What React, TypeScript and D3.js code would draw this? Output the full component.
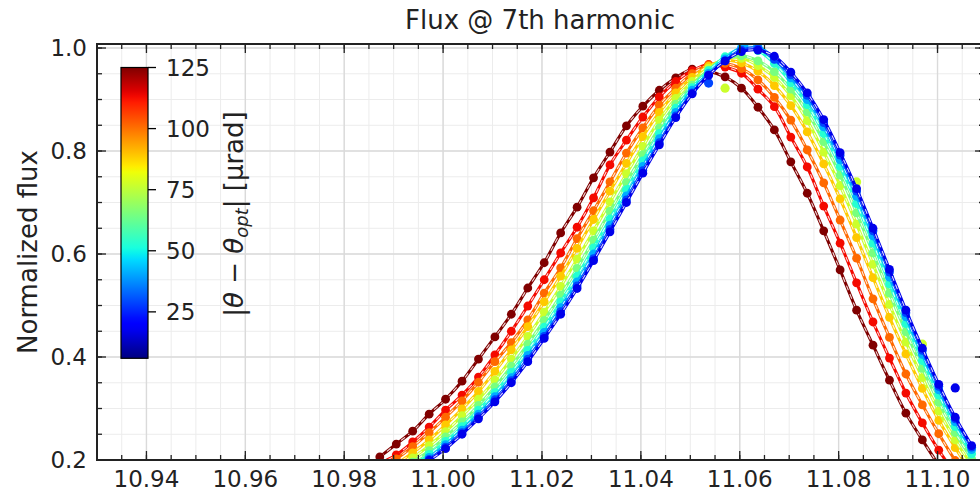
import React from "react";
import * as d3 from "d3";

// ---------- data ----------
const xValues = [
  10.9872, 10.99053, 10.99385, 10.99718, 11.0005, 11.00383, 11.00715, 11.01048, 11.0138, 11.01713,
  11.02045, 11.02378, 11.0271, 11.03043, 11.03375, 11.03708, 11.0404, 11.04373, 11.04705, 11.05038,
  11.0537, 11.05703, 11.06035, 11.06368, 11.067, 11.07033, 11.07365, 11.07698, 11.0803, 11.08363,
  11.08695, 11.09028, 11.0936, 11.09693, 11.10025, 11.10358, 11.1069,
];

const thetaValues = [125, 113, 101, 89, 77, 65, 53, 41, 29, 17];

const flux17 = [0.141, 0.158, 0.178, 0.199, 0.222, 0.25, 0.28, 0.313, 0.35, 0.391, 0.436, 0.483, 0.533, 0.587, 0.643, 0.7, 0.757, 0.812, 0.865, 0.911, 0.947, 0.975, 0.993, 0.996, 0.984, 0.953, 0.913, 0.861, 0.797, 0.727, 0.65, 0.57, 0.491, 0.417, 0.347, 0.283, 0.228];
const flux29 = [0.143, 0.161, 0.18, 0.201, 0.225, 0.253, 0.284, 0.317, 0.354, 0.396, 0.44, 0.488, 0.538, 0.591, 0.648, 0.705, 0.762, 0.816, 0.868, 0.913, 0.948, 0.975, 0.996, 0.999, 0.978, 0.948, 0.908, 0.855, 0.792, 0.722, 0.645, 0.565, 0.486, 0.413, 0.343, 0.28, 0.225];
const flux41 = [0.147, 0.164, 0.184, 0.205, 0.23, 0.258, 0.289, 0.323, 0.36, 0.403, 0.448, 0.496, 0.546, 0.6, 0.656, 0.713, 0.77, 0.824, 0.875, 0.918, 0.951, 0.979, 1.001, 1.003, 0.979, 0.942, 0.9, 0.847, 0.783, 0.712, 0.635, 0.555, 0.478, 0.405, 0.336, 0.274, 0.22];
const flux53 = [0.151, 0.169, 0.189, 0.211, 0.236, 0.265, 0.297, 0.331, 0.37, 0.413, 0.458, 0.507, 0.557, 0.612, 0.668, 0.725, 0.781, 0.834, 0.883, 0.923, 0.956, 0.983, 0.999, 0.995, 0.97, 0.933, 0.89, 0.834, 0.77, 0.698, 0.621, 0.542, 0.465, 0.393, 0.326, 0.265, 0.212];
const flux65 = [0.157, 0.175, 0.196, 0.218, 0.245, 0.274, 0.306, 0.342, 0.382, 0.425, 0.471, 0.52, 0.572, 0.627, 0.683, 0.739, 0.793, 0.845, 0.891, 0.928, 0.957, 0.978, 0.985, 0.975, 0.954, 0.92, 0.876, 0.818, 0.753, 0.68, 0.602, 0.524, 0.449, 0.378, 0.312, 0.253, 0.202];
const flux77 = [0.164, 0.183, 0.204, 0.228, 0.255, 0.286, 0.318, 0.355, 0.396, 0.44, 0.487, 0.537, 0.59, 0.645, 0.701, 0.756, 0.809, 0.86, 0.902, 0.935, 0.961, 0.979, 0.98, 0.966, 0.943, 0.907, 0.859, 0.798, 0.733, 0.658, 0.58, 0.502, 0.429, 0.36, 0.295, 0.239, 0.19];
const flux89 = [0.172, 0.192, 0.214, 0.239, 0.268, 0.299, 0.333, 0.372, 0.414, 0.459, 0.507, 0.557, 0.611, 0.667, 0.722, 0.776, 0.828, 0.875, 0.913, 0.943, 0.965, 0.976, 0.971, 0.955, 0.927, 0.888, 0.837, 0.775, 0.707, 0.632, 0.554, 0.477, 0.406, 0.339, 0.277, 0.224, 0.175];
const flux101 = [0.182, 0.202, 0.226, 0.253, 0.283, 0.315, 0.351, 0.391, 0.428, 0.472, 0.524, 0.573, 0.63, 0.684, 0.74, 0.796, 0.845, 0.889, 0.922, 0.95, 0.967, 0.97, 0.96, 0.938, 0.904, 0.86, 0.802, 0.738, 0.666, 0.592, 0.513, 0.438, 0.367, 0.307, 0.251, 0.199, 0.153];
const flux113 = [0.193, 0.21, 0.235, 0.264, 0.297, 0.326, 0.361, 0.404, 0.45, 0.499, 0.55, 0.602, 0.652, 0.709, 0.773, 0.821, 0.866, 0.905, 0.935, 0.956, 0.968, 0.963, 0.951, 0.92, 0.886, 0.827, 0.769, 0.693, 0.621, 0.544, 0.468, 0.398, 0.33, 0.272, 0.219, 0.173, 0.129];
const flux125 = [0.206, 0.231, 0.256, 0.289, 0.318, 0.353, 0.396, 0.439, 0.483, 0.534, 0.583, 0.641, 0.691, 0.748, 0.798, 0.849, 0.887, 0.918, 0.942, 0.959, 0.955, 0.944, 0.922, 0.885, 0.841, 0.779, 0.718, 0.645, 0.569, 0.491, 0.423, 0.355, 0.291, 0.239, 0.19, 0.145, 0.105];

const fluxSeries = [flux125, flux113, flux101, flux89, flux77, flux65, flux53, flux41, flux29, flux17];

// stray measurement points
const outlierTheta = [77, 77, 77, 17, 29];
const outlierIndex = [21, 29, 33, 35, 20];
const outlierFlux = [0.922, 0.74, 0.425, 0.34, 0.932];

const xTicks = [10.94, 10.96, 10.98, 11.0, 11.02, 11.04, 11.06, 11.08, 11.1];
const yTicks = [0.2, 0.4, 0.6, 0.8, 1.0];
const cbTicks = [25, 50, 75, 100, 125];
const cbDomain = [6, 125];

// ---------- jet colormap ----------
const jetR = d3.scaleLinear().domain([0, 0.35, 0.66, 0.89, 1]).range([0, 0, 1, 1, 0.5]).clamp(true);
const jetG = d3.scaleLinear().domain([0, 0.125, 0.375, 0.64, 0.91, 1]).range([0, 0, 1, 1, 0, 0]).clamp(true);
const jetB = d3.scaleLinear().domain([0, 0.11, 0.34, 0.65, 1]).range([0.5, 1, 1, 0, 0]).clamp(true);
const jet = (t: number) =>
  d3.rgb(Math.round(jetR(t) * 255), Math.round(jetG(t) * 255), Math.round(jetB(t) * 255)).formatHex();

export default function App() {
  const W = 980, H = 494;
  const left = 97, right = 984, top = 44, bottom = 460;
  const x = d3.scaleLinear().domain([10.93, 11.1094]).range([left, right]);
  const y = d3.scaleLinear().domain([0.2, 1.0078]).range([bottom, top]);
  const norm = d3.scaleLinear().domain(cbDomain).range([0, 1]);
  const colorOf = (th: number) => jet(norm(th));

  const xMinor = d3.range(10.93, 11.1095, 0.005).map((v) => +v.toFixed(3));
  const yMinor = d3.range(0.2, 1.01, 0.05).map((v) => +v.toFixed(2));

  const line = d3
    .line<number>()
    .x((_, i) => x(xValues[i]))
    .y((d) => y(d))
    .curve(d3.curveCatmullRom.alpha(0.5));

  // colorbar
  const cbX = 121, cbW = 27, cbTop = 67.5, cbBottom = 358.3;
  const cbScale = d3.scaleLinear().domain(cbDomain).range([cbBottom, cbTop]);
  const stops = d3.range(0, 1.0001, 0.02);

  const font = "DejaVu Sans, Liberation Sans, sans-serif";
  const axisColor = "#222";

  return (
    <svg width={W} height={H} style={{ position: "absolute", left: 0, top: 0, background: "#fff" }} fontFamily={font}>
      <defs>
        <clipPath id="plotClip">
          <rect x={left} y={top} width={right - left} height={bottom - top} />
        </clipPath>
        <linearGradient id="jetGrad" x1="0" y1="1" x2="0" y2="0">
          {stops.map((s) => (
            <stop key={s} offset={s} stopColor={jet(s)} />
          ))}
        </linearGradient>
      </defs>
      <rect x={0} y={0} width={W} height={H} fill="#fff" />

      {/* grid */}
      <g>
        {xMinor.map((v) => (
          <line key={"gx" + v} x1={x(v)} x2={x(v)} y1={top} y2={bottom} stroke="#ececec" strokeWidth={1} />
        ))}
        {yMinor.map((v) => (
          <line key={"gy" + v} x1={left} x2={right} y1={y(v)} y2={y(v)} stroke="#ececec" strokeWidth={1} />
        ))}
        {xTicks.map((v) => (
          <line key={"Gx" + v} x1={x(v)} x2={x(v)} y1={top} y2={bottom} stroke="#dadada" strokeWidth={1.4} />
        ))}
        {yTicks.map((v) => (
          <line key={"Gy" + v} x1={left} x2={right} y1={y(v)} y2={y(v)} stroke="#dadada" strokeWidth={1.4} />
        ))}
      </g>

      {/* series */}
      <g clipPath="url(#plotClip)">
        {fluxSeries.map((vals, si) => {
          const th = thetaValues[si];
          const c = colorOf(th);
          const d = line(vals) || "";
          return (
            <g key={"s" + th}>
              <path d={d} fill="none" stroke={c} strokeWidth={3} />
              <path d={d} fill="none" stroke="#fff" strokeWidth={1.1} strokeDasharray="5 4" opacity={0.85} />
              {vals.map((v, i) => (
                <circle key={i} cx={x(xValues[i])} cy={y(v)} r={4.4} fill={c} />
              ))}
              {outlierTheta.map((ot, oi) =>
                ot === th ? (
                  <circle key={"o" + oi} cx={x(xValues[outlierIndex[oi]])} cy={y(outlierFlux[oi])} r={4.6} fill={c} />
                ) : null
              )}
            </g>
          );
        })}
      </g>

      {/* ticks */}
      <g stroke={axisColor} strokeWidth={1.3}>
        {xMinor.map((v) => (
          <g key={"tx" + v}>
            <line x1={x(v)} x2={x(v)} y1={bottom} y2={bottom - 5} />
            <line x1={x(v)} x2={x(v)} y1={top} y2={top + 5} />
          </g>
        ))}
        {xTicks.map((v) => (
          <g key={"TX" + v}>
            <line x1={x(v)} x2={x(v)} y1={bottom} y2={bottom - 9} />
            <line x1={x(v)} x2={x(v)} y1={top} y2={top + 9} />
          </g>
        ))}
        {yMinor.map((v) => (
          <g key={"ty" + v}>
            <line x1={left} x2={left + 5} y1={y(v)} y2={y(v)} />
            <line x1={right} x2={right - 5} y1={y(v)} y2={y(v)} />
          </g>
        ))}
        {yTicks.map((v) => (
          <g key={"TY" + v}>
            <line x1={left} x2={left + 9} y1={y(v)} y2={y(v)} />
            <line x1={right} x2={right - 9} y1={y(v)} y2={y(v)} />
          </g>
        ))}
      </g>

      {/* spines */}
      <rect x={left} y={top} width={right - left} height={bottom - top} fill="none" stroke={axisColor} strokeWidth={2} />

      {/* tick labels */}
      <g fontSize={23} fill="#222">
        {xTicks.map((v) => (
          <text key={"lx" + v} x={x(v)} y={487} textAnchor="middle">
            {v.toFixed(2)}
          </text>
        ))}
        {yTicks.map((v) => (
          <text key={"ly" + v} x={87} y={y(v)} dy="0.36em" textAnchor="end">
            {v.toFixed(1)}
          </text>
        ))}
      </g>

      {/* axis label & title */}
      <text x={540} y={29} textAnchor="middle" fontSize={26} fill="#222">
        Flux @ 7th harmonic
      </text>
      <text transform={`translate(37,${(top + bottom) / 2}) rotate(-90)`} textAnchor="middle" fontSize={26} fill="#222">
        Normalized flux
      </text>

      {/* colorbar */}
      <rect x={cbX} y={cbTop} width={cbW} height={cbBottom - cbTop} fill="url(#jetGrad)" stroke="#000" strokeWidth={1.2} />
      <g>
        {cbTicks.map((v) => (
          <g key={"cb" + v}>
            <line x1={cbX + cbW} x2={cbX + cbW + 8} y1={cbScale(v)} y2={cbScale(v)} stroke="#000" strokeWidth={1.3} />
            <text x={166} y={cbScale(v)} dy="0.36em" fontSize={23} fill="#222">
              {v}
            </text>
          </g>
        ))}
      </g>
      <text transform="translate(243,214) rotate(-90)" textAnchor="middle" fontSize={26} fill="#222">
        |<tspan fontStyle="italic">θ</tspan> − <tspan fontStyle="italic">θ</tspan>
        <tspan fontStyle="italic" fontSize={18} dy={5}>opt</tspan>
        <tspan dy={-5}>| [μrad]</tspan>
      </text>
    </svg>
  );
}
